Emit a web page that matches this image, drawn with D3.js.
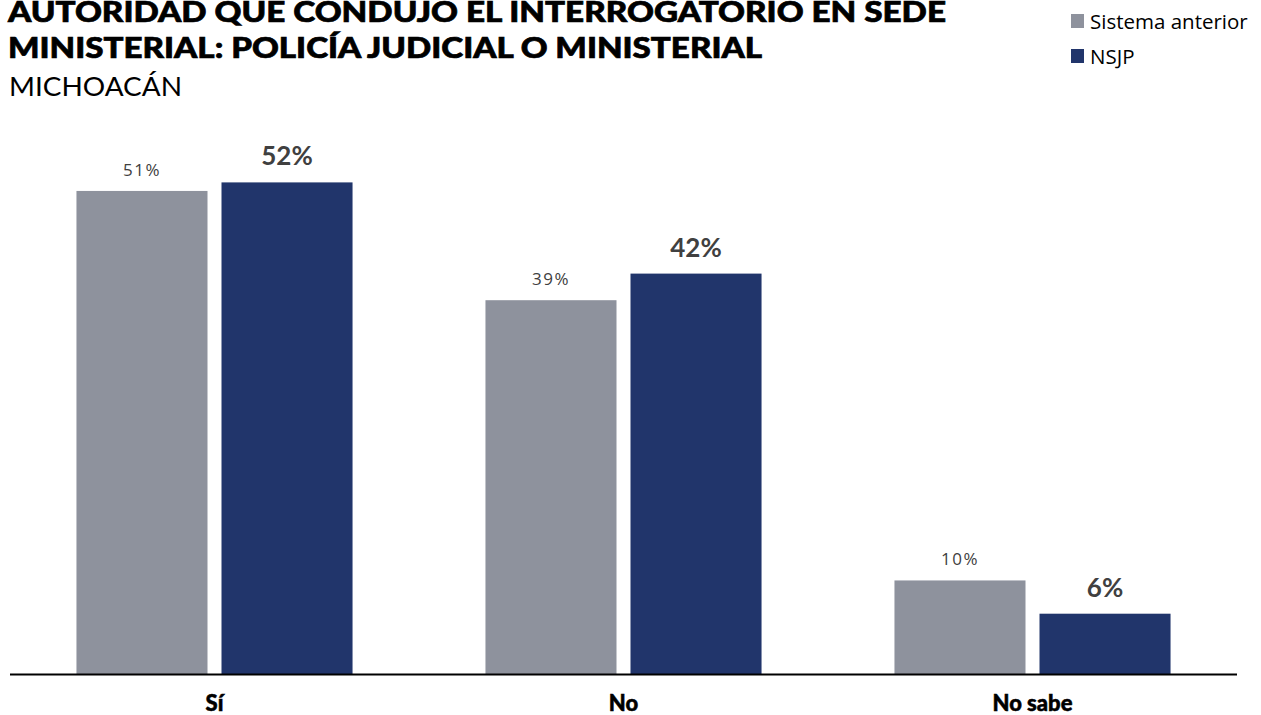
<!DOCTYPE html>
<html><head><meta charset="utf-8">
<script src="https://cdn.jsdelivr.net/npm/d3@7"></script>
<style>
html,body{margin:0;padding:0;background:#fff;}
svg{display:block;}
</style></head>
<body>
<script>
const categories = ["Sí", "No", "No sabe"];
const seriesNames = ["Sistema anterior", "NSJP"];
const sistemaAnterior = [50.9, 39.4, 9.9];
const nsjp = [51.8, 42.2, 6.4];
const titleLines = ["AUTORIDAD QUE CONDUJO EL INTERROGATORIO EN SEDE", "MINISTERIAL: POLICÍA JUDICIAL O MINISTERIAL"];
const subtitle = "MICHOACÁN";

const W = 1261, H = 715;
const colors = {"Sistema anterior": "#8e929d", "NSJP": "#21356b"};
const seriesValues = {"Sistema anterior": sistemaAnterior, "NSJP": nsjp};
const titleWidths = [938, 754];

const svg = d3.select("body").append("svg").attr("width", W).attr("height", H);

// Title
const title = svg.append("g").attr("font-family", "Lato").attr("font-weight", 900)
  .attr("fill", "#000").attr("stroke", "#000").attr("stroke-width", 0.7);
titleLines.forEach((t, i) => {
  title.append("text").attr("x", 8).attr("y", 22 + i * 35.5).attr("font-size", 29)
    .attr("textLength", titleWidths[i]).attr("lengthAdjust", "spacingAndGlyphs").text(t);
});
svg.append("text").attr("x", 9).attr("y", 96).attr("font-family", "Lato").attr("font-size", 26.5)
  .attr("fill", "#000").attr("textLength", 173).attr("lengthAdjust", "spacingAndGlyphs").text(subtitle);

// Legend
const legend = svg.append("g").attr("font-family", "Open Sans").attr("font-size", 20.5).attr("fill", "#000");
seriesNames.forEach((s, i) => {
  const y = 14 + i * 35;
  legend.append("rect").attr("x", 1071).attr("y", y).attr("width", 13).attr("height", 14).attr("fill", colors[s]);
  legend.append("text").attr("x", 1090).attr("y", y + 15).text(s);
});

// Scales
const x0 = d3.scaleBand().domain(categories).range([10, 1237]).paddingInner(0.325).paddingOuter(0.1625);
const x1 = d3.scaleBand().domain(seriesNames).range([0, x0.bandwidth()]).paddingInner(14 / 145);
const y = d3.scaleLinear().domain([0, 50]).range([674.5, 199.5]);

const groups = svg.append("g").selectAll("g").data(categories).join("g")
  .attr("transform", d => `translate(${x0(d)},0)`);

groups.selectAll("rect").data((c, ci) => seriesNames.map(s => ({s, v: seriesValues[s][ci]})))
  .join("rect")
  .attr("x", d => x1(d.s)).attr("width", x1.bandwidth())
  .attr("y", d => y(d.v)).attr("height", d => y(0) - y(d.v))
  .attr("fill", d => colors[d.s]);

groups.selectAll("text.val").data((c, ci) => seriesNames.map(s => ({s, v: seriesValues[s][ci]})))
  .join("text").attr("class", "val")
  .attr("x", d => x1(d.s) + x1.bandwidth() / 2)
  .attr("y", d => d.s === "NSJP" ? y(d.v) - 17 : y(d.v) - 15)
  .attr("text-anchor", "middle")
  .attr("fill", "#404040")
  .attr("font-family", d => d.s === "NSJP" ? "Lato" : "Open Sans")
  .attr("font-weight", d => d.s === "NSJP" ? 700 : 400)
  .attr("font-size", d => d.s === "NSJP" ? 26 : 17)
  .attr("letter-spacing", d => d.s === "NSJP" ? 0 : 1.5)
  .text(d => Math.round(d.v) + "%");

// Axis
const axis = svg.append("g").attr("transform", `translate(0,${y(0)})`)
  .call(d3.axisBottom(x0).tickSize(0));
axis.select(".domain").attr("stroke", "#000").attr("stroke-width", 2).attr("d", "M10,0H1237");
axis.selectAll(".tick text").attr("y", 36).attr("dy", 0)
  .attr("font-family", "Lato").attr("font-weight", 900)
  .attr("font-size", 22).attr("fill", "#000").attr("stroke", "#000").attr("stroke-width", 0.5);
</script>
</body></html>
